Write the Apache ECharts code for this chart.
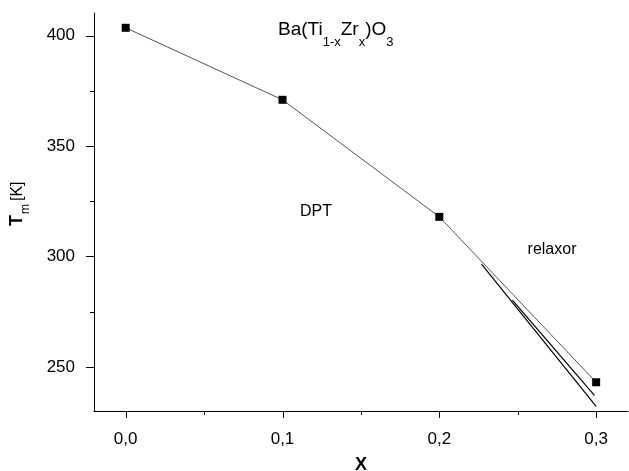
<!DOCTYPE html>
<html>
<head>
<meta charset="utf-8">
<script src="https://cdn.jsdelivr.net/npm/echarts@6/dist/echarts.min.js"></script>
<style>
  html, body { margin: 0; padding: 0; background: #fff; }
  #chart { width: 629px; height: 471px; }
</style>
</head>
<body>
<div id="chart"></div>
<script>
// composition x and transition temperature Tm
const xValues = [0, 0.1, 0.2, 0.3];
const tmValues = [403.5, 370.9, 317.9, 243.0];
// two guide lines in the relaxor region
const relaxorLineA = [[0.2269, 296.5], [0.3, 232.1]];
const relaxorLineB = [[0.2466, 280.2], [0.2989, 237.1]];
// ticks
const xMajorTicks = [0, 0.1, 0.2, 0.3];
const xMinorTicks = [0.05, 0.15, 0.25];
const yMajorTicks = [250, 300, 350, 400];
const yMinorTicks = [275, 325, 375];

const font = 'Liberation Sans, Arial, sans-serif';
const chart = echarts.init(document.getElementById('chart'));

const xRange = { min: -0.0202, max: 0.3203 };
const yRange = { min: 230, max: 410.2 };

// text with sub/superscripts: pieces laid out one after another,
// each with its own size and baseline shift
const measureCtx = document.createElement('canvas').getContext('2d');
function scriptText(x, y, rotation, pieces) {
    let cx = 0;
    const children = pieces.map(p => {
        const weight = p.weight || 'normal';
        measureCtx.font = weight + ' ' + p.size + 'px ' + font;
        const el = {
            type: 'text', x: cx, y: (p.dy || 0) - 0.35 * p.size,
            style: {
                text: p.text, fontSize: p.size, fontWeight: weight,
                fontFamily: font, fill: '#000', align: 'left', verticalAlign: 'middle'
            }
        };
        cx += measureCtx.measureText(p.text).width + (p.gap || 0);
        return el;
    });
    return { type: 'group', x: x, y: y, rotation: rotation, children: children };
}

// outward tick marks, placed through the axes' own scales
function tickSeries(kind, values, len) {
    return {
        type: 'custom', silent: true, clip: false, z: 5,
        data: values.map(v => [v]),
        renderItem: (params, api) => {
            const v = api.value(0);
            if (kind === 'x') {
                const p = api.coord([v, yRange.min]);
                const x = Math.round(p[0]) + 0.5;
                return { type: 'line', shape: { x1: x, y1: p[1], x2: x, y2: p[1] + len },
                         style: { stroke: '#000', lineWidth: 1 } };
            }
            const p = api.coord([xRange.min, v]);
            const y = Math.round(p[1]) + 0.5;
            return { type: 'line', shape: { x1: p[0] - len, y1: y, x2: p[0], y2: y },
                     style: { stroke: '#000', lineWidth: 1 } };
        }
    };
}

chart.setOption({
    animation: false,
    backgroundColor: '#fff',
    grid: { left: 94, right: 1, top: 13, bottom: 60, outerBoundsMode: 'none', containLabel: false },
    xAxis: {
        type: 'value',
        min: xRange.min, max: xRange.max,
        axisLine: { onZero: false, lineStyle: { color: '#000', width: 1 } },
        axisTick: { show: false },
        axisLabel: {
            customValues: xMajorTicks, margin: 20,
            color: '#000', fontSize: 17, fontFamily: font,
            formatter: v => v.toFixed(1).replace('.', ',')
        },
        splitLine: { show: false },
        name: 'X', nameLocation: 'middle', nameGap: 45,
        nameTextStyle: { color: '#000', fontSize: 18, fontWeight: 'bold', fontFamily: font }
    },
    yAxis: {
        type: 'value',
        min: yRange.min, max: yRange.max,
        axisLine: { show: true, onZero: false, lineStyle: { color: '#000', width: 1 } },
        axisTick: { show: false },
        axisLabel: {
            customValues: yMajorTicks, margin: 19,
            color: '#000', fontSize: 17, fontFamily: font
        },
        splitLine: { show: false }
    },
    graphic: [
        scriptText(278, 36.7, 0, [
            { text: 'Ba(Ti', size: 19 },
            { text: '1-x', size: 13, dy: 10 },
            { text: 'Zr', size: 19 },
            { text: 'x', size: 13, dy: 10 },
            { text: ')O', size: 19 },
            { text: '3', size: 13, dy: 10 }
        ]),
        scriptText(23, 226, Math.PI / 2, [
            { text: 'T', size: 18, weight: 'bold', gap: 1 },
            { text: 'm', size: 12, dy: 7, gap: 3 },
            { text: '[K]', size: 16 }
        ]),
        {
            type: 'text', x: 316, y: 212,
            style: { text: 'DPT', fontSize: 16, fontFamily: font, fill: '#000', align: 'center', verticalAlign: 'middle' }
        }, {
            type: 'text', x: 552, y: 250,
            style: { text: 'relaxor', fontSize: 16, fontFamily: font, fill: '#000', align: 'center', verticalAlign: 'middle' }
        }
    ],
    series: [{
        type: 'line',
        data: xValues.map((x, i) => [x, tmValues[i]]),
        symbol: 'rect', symbolSize: 8,
        itemStyle: { color: '#000' },
        lineStyle: { color: '#555', width: 1 },
        z: 3
    }, {
        type: 'line', data: relaxorLineA, symbol: 'none',
        lineStyle: { color: '#000', width: 1.2 }
    }, {
        type: 'line', data: relaxorLineB, symbol: 'none',
        lineStyle: { color: '#000', width: 1.2 }
    },
        tickSeries('x', xMajorTicks, 7),
        tickSeries('x', xMinorTicks, 4),
        tickSeries('y', yMajorTicks, 8),
        tickSeries('y', yMinorTicks, 4)
    ]
});
</script>
</body>
</html>
